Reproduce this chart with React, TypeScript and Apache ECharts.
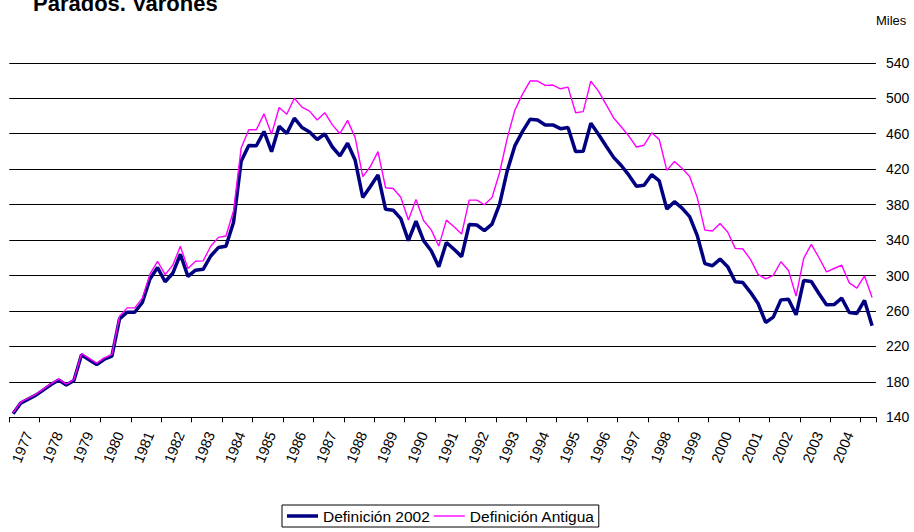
import React, { useEffect, useRef } from "react";
import * as echarts from "echarts";

const titleText = "Parados. Varones";
const unitText = "Miles";
const seriesNames = ["Definición 2002", "Definición Antigua"];
const seriesColors = ["#000080", "#ff00ff"];

const years = [
  1977, 1978, 1979, 1980, 1981, 1982, 1983, 1984, 1985, 1986, 1987, 1988, 1989, 1990,
  1991, 1992, 1993, 1994, 1995, 1996, 1997, 1998, 1999, 2000, 2001, 2002, 2003, 2004,
];
const startQuarters = ["1976 T3", "1976 T4"];
const quarters = ["T1", "T2", "T3", "T4"];
const categories = [
  ...startQuarters,
  ...years.flatMap((y) => quarters.map((q) => `${y} ${q}`)),
];

const def2002 = [
  144, 156, 160.5, 165, 171, 177, 182, 176.5, 181.5, 210.5,
  205, 199.5, 205.5, 209, 251, 258.5, 258.5, 269.5, 296, 309,
  293, 302.5, 324, 299, 306, 307, 322, 331.5, 333, 360,
  428.8, 446.8, 446.4, 462.5, 439.7, 468.5, 460.3, 477.5, 467, 462,
  453.5, 459.7, 445, 435, 449.2, 430, 388, 400.5, 413.5, 374.7,
  373.7, 364.2, 339.3, 361.2, 339.3, 328, 310, 337.2, 329.6, 321.3,
  357.6, 357, 350.6, 358, 380.6, 418, 446.2, 462.4, 476.2, 475.5,
  469.9, 469.9, 465.7, 466.9, 439.8, 440.2, 471.7, 459.4, 446.2, 433.3,
  424.1, 413.2, 400.7, 401.8, 413.8, 406.7, 374.9, 383.3, 376, 366.5,
  345, 313.4, 311, 318.5, 310, 292.9, 292, 281, 268.4, 247,
  253, 272.5, 273.1, 255.7, 294.3, 293.2, 279.7, 267, 267.2, 274.5,
  258.2, 257.2, 271.9, 243.2,
];

const defAntigua = [
  145, 157, 161.5, 166, 172, 178, 183, 177.5, 182.5, 212,
  206.5, 201, 207, 211, 254, 263.5, 263.5, 274.5, 301.5, 316,
  301, 311.5, 333, 308, 316, 316.5, 333, 343, 344.5, 373,
  443.8, 464.4, 464.4, 482.4, 459.5, 489.5, 482, 500, 490, 485.5,
  475.5, 483.7, 470, 460, 475, 455.6, 411.5, 423, 439.8, 399,
  398.1, 388.3, 362.7, 385.7, 362.1, 351.5, 333.1, 362.5, 355, 346.7,
  385, 385.1, 379.8, 388, 416.2, 454.8, 486.4, 504.4, 519.4, 519.4,
  514.5, 514.9, 510.7, 512.6, 483.7, 484.9, 519.4, 508.1, 493.1, 477.8,
  467.9, 457.2, 445, 447, 461, 453.5, 418.6, 428.7, 421, 411.7,
  387.9, 351.2, 350.2, 358.7, 349, 330.6, 329.9, 318.2, 301.3, 296.2,
  300.2, 315.5, 305.7, 276.8, 319.4, 335.2, 320.3, 304.1, 307.9, 311.6,
  291.7, 285.8, 299.5, 275.2,
];

const yMin = 140;
const yMax = 540;
const yStep = 40;

const FONT = "'Liberation Sans', Arial, sans-serif";

export default function App() {
  const ref = useRef<HTMLDivElement>(null);

  useEffect(() => {
    if (!ref.current) return;
    const chart = echarts.init(ref.current, undefined, { renderer: "svg" });
    chart.setOption({
      animation: false,
      backgroundColor: "#ffffff",
      textStyle: { fontFamily: FONT },
      graphic: [
        {
          type: "text",
          x: 33,
          y: 3.4,
          style: {
            text: titleText,
            fontFamily: FONT,
            fontSize: 22,
            fontWeight: "bold",
            fill: "#000",
            verticalAlign: "middle",
            align: "left",
          },
        },
        {
          type: "text",
          x: 876,
          y: 20,
          style: {
            text: unitText,
            fontFamily: FONT,
            fontSize: 13,
            fill: "#000",
            verticalAlign: "middle",
            align: "left",
          },
        },
      ],
      legend: {
        left: 282,
        top: 505,
        orient: "horizontal",
        borderColor: "#000",
        borderWidth: 1,
        padding: [3, 4, 3, 5],
        itemGap: 4,
        itemWidth: 31,
        itemHeight: 12,
        symbolKeepAspect: true,
        textStyle: { fontFamily: FONT, fontSize: 15.5, color: "#000" },
        data: [
          { name: seriesNames[0], icon: "path://M0,0H31V3.5H0Z", itemStyle: { color: seriesColors[0] } },
          { name: seriesNames[1], icon: "path://M0,0H31V1.4H0Z", itemStyle: { color: seriesColors[1] } },
        ],
      },
      grid: { left: 9.3, right: 38.1, top: 62.8, bottom: 114.7, containLabel: false },
      xAxis: {
        type: "category",
        data: categories,
        boundaryGap: true,
        axisLine: { show: true, lineStyle: { color: "#000", width: 1 } },
        axisTick: {
          show: true,
          length: 5,
          lineStyle: { color: "#000", width: 1 },
          interval: (index: number) => index % 4 === 0,
        },
        axisLabel: {
          interval: (_index: number, value: string) => value.endsWith("T1"),
          formatter: (value: string) => value.slice(0, 4),
          rotate: 68,
          margin: 15,
          fontFamily: FONT,
          fontSize: 14.5,
          color: "#000",
        },
        splitLine: { show: false },
      },
      yAxis: {
        type: "value",
        position: "right",
        min: yMin,
        max: yMax,
        interval: yStep,
        axisLine: { show: false },
        axisTick: { show: false },
        axisLabel: { margin: 10, fontFamily: FONT, fontSize: 14, color: "#000" },
        splitLine: { show: true, lineStyle: { color: "#000", width: 1 } },
      },
      series: [
        {
          name: seriesNames[0],
          type: "line",
          data: def2002,
          symbol: "none",
          lineStyle: { color: seriesColors[0], width: 3.5 },
          itemStyle: { color: seriesColors[0] },
          z: 2,
        },
        {
          name: seriesNames[1],
          type: "line",
          data: defAntigua,
          symbol: "none",
          lineStyle: { color: seriesColors[1], width: 1.4 },
          itemStyle: { color: seriesColors[1] },
          z: 3,
        },
      ],
    });
    return () => chart.dispose();
  }, []);

  return (
    <div
      ref={ref}
      style={{ position: "fixed", left: 0, top: 0, width: 914, height: 532, background: "#fff" }}
    />
  );
}
